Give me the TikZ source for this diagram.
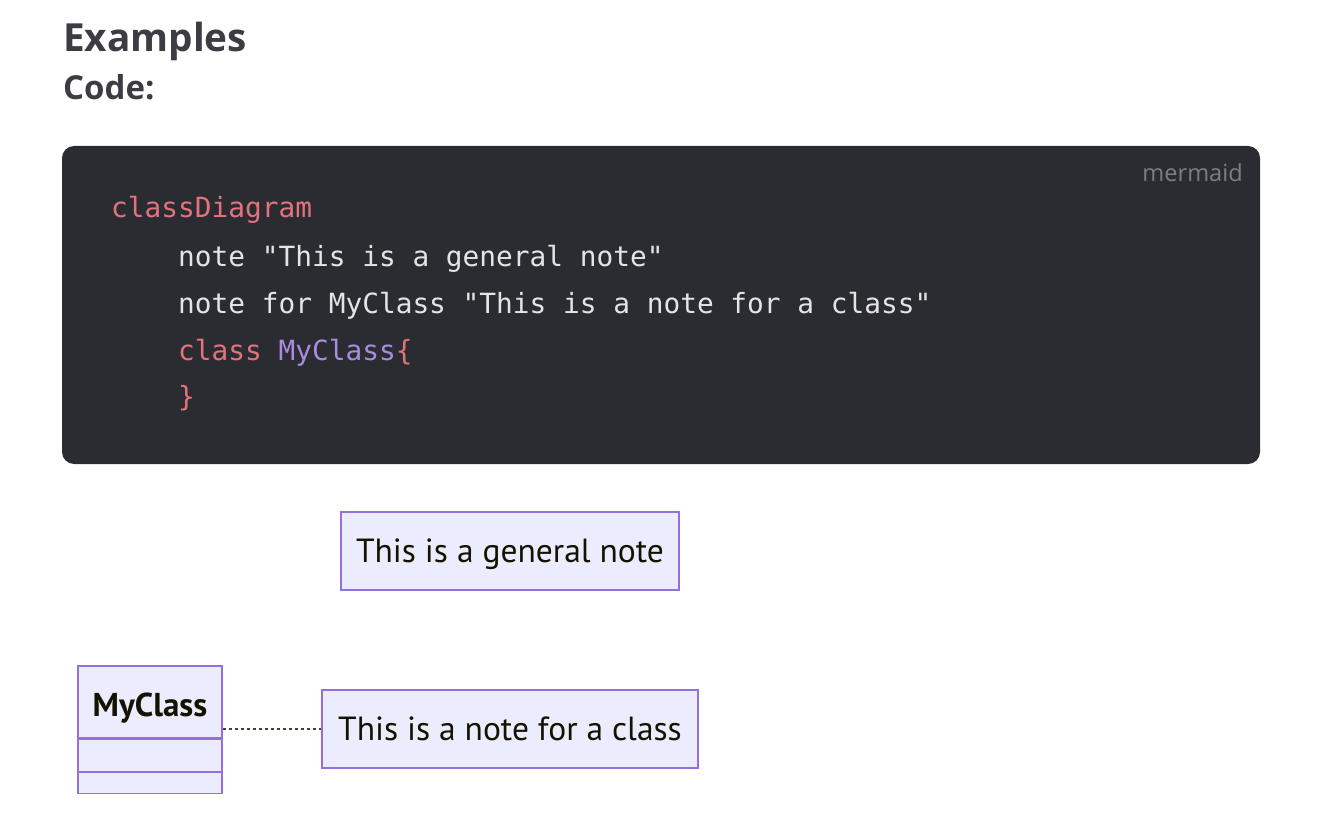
\documentclass[tikz,border=0pt]{standalone}
\usepackage{fontspec}
\setmainfont{Lato}
\newfontfamily\headfont{Open Sans}
\newfontfamily\codefont{DejaVu Sans Mono}
\newfontfamily\notefont{PT Sans}
\definecolor{headc}{HTML}{3C3C43}
\definecolor{codebg}{HTML}{2B2C31}
\definecolor{codetxt}{HTML}{E4E4E6}
\definecolor{kw}{HTML}{E4727D}
\definecolor{cls}{HTML}{A98BE0}
\definecolor{muted}{HTML}{7D7D85}
\definecolor{notefill}{HTML}{ECECFF}
\definecolor{notedraw}{HTML}{9370DB}
\definecolor{ink}{HTML}{131300}
\tikzset{
  notebox/.style={draw=notedraw, fill=notefill, line width=1.3pt, inner sep=0pt, font=\notefont\fontsize{33.5}{38}\selectfont, text=ink},
  classpart/.style={draw=notedraw, fill=notefill, line width=1.3pt, minimum width=144pt, inner sep=0pt},
  codeline/.style={anchor=base west, inner sep=0pt, font=\codefont\fontsize{27.8}{32}\selectfont, text=codetxt},
}
\begin{document}
\begin{tikzpicture}[x=1pt,y=-1pt]
\useasboundingbox (0,0) rectangle (1330,834);
% headings
\node[anchor=base west, inner sep=0pt, text=headc, font=\headfont\bfseries\fontsize{38.7}{44}\selectfont] (title) at (63,52) {Examples};
\node[anchor=base west, inner sep=0pt, text=headc, font=\headfont\bfseries\fontsize{33}{38}\selectfont] (code) at (63,100) {Code:};
% code block
\fill[codebg, rounded corners=12pt] (62,146) rectangle (1260,464);
\node[anchor=base east, inner sep=0pt, text=muted, font=\headfont\fontsize{23.6}{28}\selectfont] (lang) at (1243,182) {mermaid};
\node[codeline, text=kw] (l1) at (111,218) {classDiagram};
\node[codeline] (l2) at (178,266) {note "This is a general note"};
\node[codeline] (l3) at (178,313) {note for MyClass "This is a note for a class"};
\node[codeline] (l4) at (178,360) {\textcolor{kw}{class} \textcolor{cls}{MyClass}\textcolor{kw}{\{}};
\node[codeline, text=kw] (l5) at (178,406) {\}};
% general note
\node[notebox, minimum width=338pt, minimum height=78pt] (gn) at (510,551) {};
\node[inner sep=0pt, anchor=base, font=\notefont\fontsize{33.5}{38}\selectfont, text=ink] (gnt) at (510,562) {This is a general note};
% class box
\node[classpart, minimum height=72pt] (cl) at (150,702) {};
\node[inner sep=0pt, anchor=base, font=\notefont\bfseries\fontsize{33}{38}\selectfont, text=ink] (clt) at (150,716) {MyClass};
\node[classpart, minimum height=32pt, anchor=north] (cl2) at (cl.south) {};
\node[classpart, minimum height=21pt, anchor=north] (cl3) at (cl2.south) {};
% class note
\node[notebox, minimum width=376pt, minimum height=78pt] (cn) at (510,729) {};
\node[inner sep=0pt, anchor=base, font=\notefont\fontsize{33.5}{38}\selectfont, text=ink] (cnt) at (510,740) {This is a note for a class};
\draw[ink!80, line width=1.3pt, dash pattern=on 3pt off 3pt] (cl.east |- cn.west) -- (cn.west);
\end{tikzpicture}
\end{document}
